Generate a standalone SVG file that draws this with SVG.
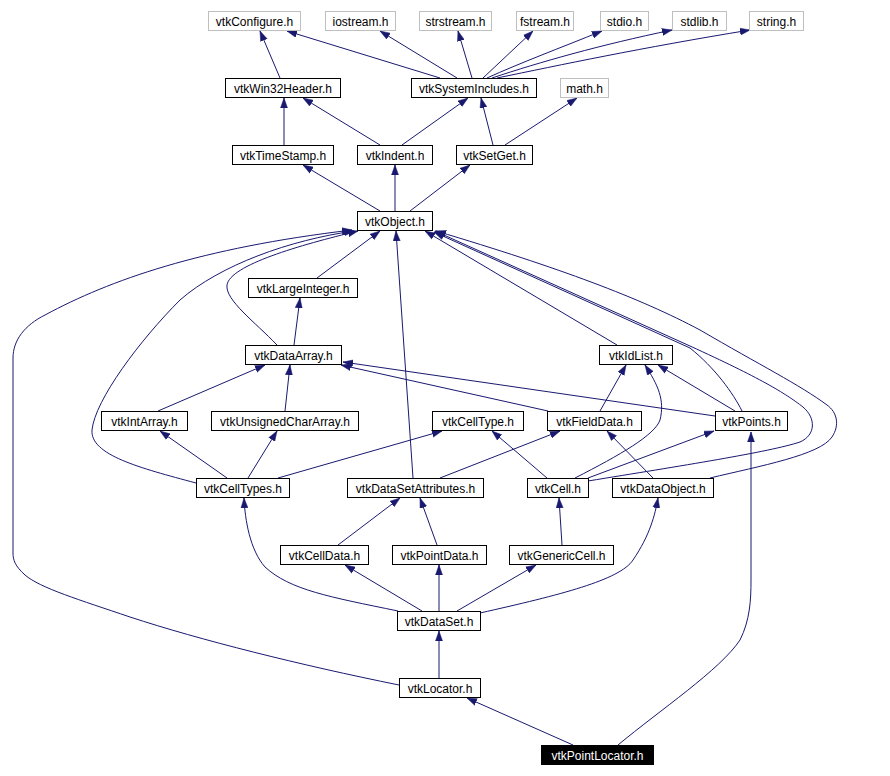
<svg xmlns="http://www.w3.org/2000/svg" width="890" height="776" viewBox="0 0 890 776">
<style>
.n rect{fill:#fff;stroke:#000;stroke-width:1}
.g rect{fill:#fff;stroke:#bfbfbf;stroke-width:1}
.r rect{fill:#000;stroke:#000;stroke-width:1}
text{font-family:"Liberation Sans",Arial,sans-serif;font-size:12px;text-anchor:middle;fill:#000}
.r text{fill:#fff}
#edges path{fill:none;stroke:#191970;stroke-width:1;marker-end:url(#a)}
</style>
<defs>
<marker id="a" markerWidth="10" markerHeight="8" refX="10" refY="4" orient="auto" markerUnits="userSpaceOnUse"><path d="M0,0.5 L10,4 L0,7.5 z" fill="#191970" stroke="#191970" stroke-width="0.5"/></marker>
</defs>
<rect width="890" height="776" fill="#fff"/>
<g id="edges">
<path d="M280,78 L260,31"/>
<path d="M440,78 L287,31"/>
<path d="M457,78 L380,31"/>
<path d="M472,78 L458,31"/>
<path d="M483,78 L533,31"/>
<path d="M487,78 C520,63 560,48 602,31"/>
<path d="M492,78 C540,62 600,45 672,30"/>
<path d="M497,78 C560,65 640,48 750,30"/>
<path d="M284,145 L284,98"/>
<path d="M380,145 L303,98"/>
<path d="M402,145 L468,98"/>
<path d="M493,145 L481,98"/>
<path d="M505,145 L577,98"/>
<path d="M380,211 L303,165"/>
<path d="M395,211 L395,165"/>
<path d="M410,211 L470,165"/>
<path d="M317,278 L380,231"/>
<path d="M277,345 C255,322 225,300 227,285 C230,265 300,245 358,231"/>
<path d="M196,483 C140,468 90,455 92,430 C95,400 140,340 180,300 C220,265 290,240 354,231"/>
<path d="M399,685 C300,665 200,640 130,617 C80,600 40,588 25,575 C15,566 13,560 13,553 L13,358 C13,340 25,325 45,315 C110,280 200,248 352,230"/>
<path d="M413,478 L396,231"/>
<path d="M617,345 L425,231"/>
<path d="M742,411 C733,393 715,368 690,348 L434,232"/>
<path d="M588,481 C680,466 770,452 800,442 C816,435 816,418 803,407 C785,393 760,378 690,346 L435,231"/>
<path d="M710,478 C760,466 820,455 832,437 C840,425 837,412 827,405 C800,385 760,365 700,330 C640,298 560,268 436,231"/>
<path d="M294,345 L300,298"/>
<path d="M158,411 L265,365"/>
<path d="M285,411 L290,365"/>
<path d="M548,411 L341,365"/>
<path d="M715,416 L343,362"/>
<path d="M600,411 L626,365"/>
<path d="M575,478 C620,455 655,435 660,420 C665,400 658,385 645,365"/>
<path d="M735,411 L658,365"/>
<path d="M227,478 L160,431"/>
<path d="M248,478 L277,431"/>
<path d="M278,478 L442,431"/>
<path d="M440,478 L560,431"/>
<path d="M547,478 L492,431"/>
<path d="M588,478 L714,431"/>
<path d="M653,478 L607,431"/>
<path d="M338,545 L400,498"/>
<path d="M437,545 L420,498"/>
<path d="M562,545 L559,498"/>
<path d="M398,611 C330,597 290,590 265,567 C250,550 245,520 244,498"/>
<path d="M422,611 L345,565"/>
<path d="M439,611 L439,565"/>
<path d="M457,611 L536,565"/>
<path d="M480,613 C560,595 620,580 633,560 C650,535 655,515 658,498"/>
<path d="M439,678 L439,631"/>
<path d="M573,745 L467,698"/>
<path d="M618,745 C660,710 720,670 740,640 C750,620 751,600 751,580 L751,432"/>
</g>
<g id="vtkConfigure" class="g"><rect x="208.5" y="11.5" width="92" height="19"/><text x="254.5" y="25.5">vtkConfigure.h</text></g>
<g id="iostream" class="g"><rect x="325.5" y="11.5" width="70" height="19"/><text x="360.5" y="25.5">iostream.h</text></g>
<g id="strstream" class="g"><rect x="419.5" y="11.5" width="72" height="19"/><text x="455.5" y="25.5">strstream.h</text></g>
<g id="fstream" class="g"><rect x="516.5" y="11.5" width="57" height="19"/><text x="545" y="25.5">fstream.h</text></g>
<g id="stdio" class="g"><rect x="600.5" y="11.5" width="48" height="19"/><text x="624.5" y="25.5">stdio.h</text></g>
<g id="stdlib" class="g"><rect x="672.5" y="11.5" width="54" height="19"/><text x="699.5" y="25.5">stdlib.h</text></g>
<g id="string" class="g"><rect x="749.5" y="11.5" width="54" height="19"/><text x="776.5" y="25.5">string.h</text></g>
<g id="vtkWin32Header" class="n"><rect x="225.5" y="78.5" width="115" height="19"/><text x="283" y="92.5">vtkWin32Header.h</text></g>
<g id="vtkSystemIncludes" class="n"><rect x="411.5" y="78.5" width="125" height="19"/><text x="474" y="92.5">vtkSystemIncludes.h</text></g>
<g id="math" class="g"><rect x="560.5" y="78.5" width="48" height="19"/><text x="584.5" y="92.5">math.h</text></g>
<g id="vtkTimeStamp" class="n"><rect x="232.5" y="145.5" width="101" height="19"/><text x="283" y="159.5">vtkTimeStamp.h</text></g>
<g id="vtkIndent" class="n"><rect x="357.5" y="145.5" width="75" height="19"/><text x="395" y="159.5">vtkIndent.h</text></g>
<g id="vtkSetGet" class="n"><rect x="456.5" y="145.5" width="76" height="19"/><text x="494.5" y="159.5">vtkSetGet.h</text></g>
<g id="vtkObject" class="n"><rect x="357.5" y="211.5" width="75" height="19"/><text x="395" y="225.5">vtkObject.h</text></g>
<g id="vtkLargeInteger" class="n"><rect x="248.5" y="278.5" width="109" height="19"/><text x="303" y="292.5">vtkLargeInteger.h</text></g>
<g id="vtkDataArray" class="n"><rect x="245.5" y="345.5" width="96" height="19"/><text x="293.5" y="359.5">vtkDataArray.h</text></g>
<g id="vtkIdList" class="n"><rect x="599.5" y="345.5" width="73" height="19"/><text x="636" y="359.5">vtkIdList.h</text></g>
<g id="vtkIntArray" class="n"><rect x="101.5" y="411.5" width="86" height="19"/><text x="144.5" y="425.5">vtkIntArray.h</text></g>
<g id="vtkUnsignedCharArray" class="n"><rect x="211.5" y="411.5" width="147" height="19"/><text x="285" y="425.5">vtkUnsignedCharArray.h</text></g>
<g id="vtkCellType" class="n"><rect x="432.5" y="411.5" width="91" height="19"/><text x="478" y="425.5">vtkCellType.h</text></g>
<g id="vtkFieldData" class="n"><rect x="547.5" y="411.5" width="94" height="19"/><text x="594.5" y="425.5">vtkFieldData.h</text></g>
<g id="vtkPoints" class="n"><rect x="715.5" y="411.5" width="72" height="19"/><text x="751.5" y="425.5">vtkPoints.h</text></g>
<g id="vtkCellTypes" class="n"><rect x="196.5" y="478.5" width="93" height="19"/><text x="243" y="492.5">vtkCellTypes.h</text></g>
<g id="vtkDataSetAttributes" class="n"><rect x="347.5" y="478.5" width="136" height="19"/><text x="415.5" y="492.5">vtkDataSetAttributes.h</text></g>
<g id="vtkCell" class="n"><rect x="527.5" y="478.5" width="61" height="19"/><text x="558" y="492.5">vtkCell.h</text></g>
<g id="vtkDataObject" class="n"><rect x="612.5" y="478.5" width="101" height="19"/><text x="663" y="492.5">vtkDataObject.h</text></g>
<g id="vtkCellData" class="n"><rect x="280.5" y="545.5" width="88" height="19"/><text x="324.5" y="559.5">vtkCellData.h</text></g>
<g id="vtkPointData" class="n"><rect x="392.5" y="545.5" width="94" height="19"/><text x="439.5" y="559.5">vtkPointData.h</text></g>
<g id="vtkGenericCell" class="n"><rect x="509.5" y="545.5" width="104" height="19"/><text x="561.5" y="559.5">vtkGenericCell.h</text></g>
<g id="vtkDataSet" class="n"><rect x="397.5" y="611.5" width="83" height="19"/><text x="439" y="625.5">vtkDataSet.h</text></g>
<g id="vtkLocator" class="n"><rect x="399.5" y="678.5" width="81" height="19"/><text x="440" y="692.5">vtkLocator.h</text></g>
<g id="vtkPointLocator" class="r"><rect x="541.5" y="745.5" width="112" height="19"/><text x="597.5" y="759.5">vtkPointLocator.h</text></g>
</svg>
